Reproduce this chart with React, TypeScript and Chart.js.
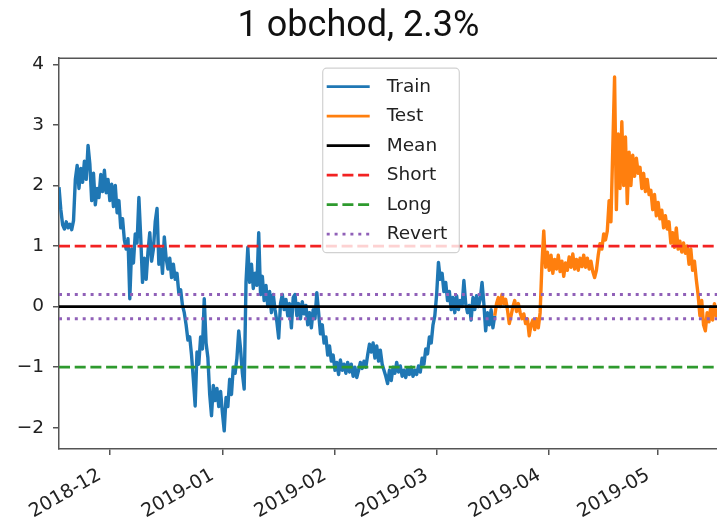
import React, { useEffect, useRef } from "react";
import { Chart, registerables } from "chart.js";

Chart.register(...registerables);

const chartTitle = "1 obchod, 2.3%";
const xTickLabels = ["2018-12", "2019-01", "2019-02", "2019-03", "2019-04", "2019-05"];
const yTickValues = [-2, -1, 0, 1, 2, 3, 4];
const xRangeDates = ["2018-11-17T00:00:00Z", "2019-05-17T05:00:00Z"];
const yRange = [-2.35, 4.1];
const stepHours = 12;
const trainStart = "2018-11-17T00:00:00Z";
const testStart = "2019-03-17T00:00:00Z";

const trainValues = [
  1.97, 1.6, 1.35, 1.28, 1.4, 1.3, 1.36, 1.27, 1.42, 2.1,
  2.33, 1.95, 2.28, 2.05, 2.4, 2.1, 2.66, 2.35, 1.75, 2.2,
  1.68, 1.95, 1.8, 2.18, 1.9, 2.25, 1.88, 2.1, 1.75, 2.02,
  1.65, 2.0, 1.55, 1.75, 1.3, 1.45, 1.1, 0.95, 1.12, 0.13,
  0.95, 0.72, 1.2, 1.05, 1.8, 1.15, 0.4, 0.8, 0.45, 0.9,
  1.22, 0.75, 0.95, 1.4, 1.62, 0.7, 0.95, 0.55, 1.15, 0.8,
  0.62, 0.8, 0.48, 0.7, 0.45, 0.55, 0.22, 0.28, 0.02, -0.1,
  -0.3, -0.55, -0.5, -0.8, -1.2, -1.64, -0.75, -0.95, -0.5, -0.7,
  0.13, -0.6, -0.84, -1.45, -1.8, -1.3, -1.55, -1.35, -1.65, -1.4,
  -1.75, -2.05, -1.5, -1.65, -1.2, -1.45, -1.0, -1.1, -0.85, -0.4,
  -0.7, -1.1, -1.36, 0.4, 0.98, 0.4, 0.7, 0.3, 0.55, 0.35,
  1.22, 0.2, 0.5, 0.1, 0.35, 0.0, 0.25, -0.1, 0.2, -0.05,
  -0.25, -0.52, 0.05, 0.2, -0.05, 0.12, -0.15, 0.05, -0.35, 0.15,
  0.2, -0.15, 0.05, -0.2, 0.08, -0.12, 0.02, -0.3, -0.1, -0.35,
  -0.05, -0.2, 0.23, -0.1, -0.45, -0.3, -0.6, -0.5, -0.8, -0.65,
  -0.9, -0.8, -1.05, -0.92, -1.12, -0.88, -1.05, -0.95, -1.1, -0.92,
  -1.08, -0.95, -1.15, -1.0, -1.17, -1.05, -0.92, -1.02, -0.9, -1.0,
  -0.8, -0.62, -0.75, -0.6, -0.85, -0.65, -0.9, -0.72, -0.95, -1.05,
  -1.15, -1.27, -1.05, -1.22, -1.0, -1.1, -0.92, -1.08, -0.98, -1.15,
  -1.05, -1.17, -1.02, -1.12, -1.0, -1.15, -1.05, -1.12, -0.98, -1.08,
  -0.85, -0.95, -0.7, -0.78, -0.5, -0.6, -0.3, -0.15, 0.2, 0.73,
  0.45, 0.55, 0.25, 0.4, 0.1, 0.25, -0.05, 0.15, -0.1, 0.18,
  -0.05, 0.1, 0.0, 0.43, 0.05, -0.1, 0.02, -0.22, 0.15, -0.05,
  0.18, 0.0, 0.12, 0.4, 0.05, -0.4, -0.1, -0.3, -0.05, -0.35, -0.15,
];

const testValues = [
  -0.15, 0.05, 0.15, 0.0, 0.2, 0.05, 0.12, -0.05, -0.28, -0.15,
  0.0, 0.1, -0.08, 0.05, -0.1, -0.2, -0.12, -0.28, -0.2, -0.48,
  -0.3, -0.22, -0.38, -0.2, -0.35, -0.1, 0.7, 1.25, 0.65, 0.9,
  0.6, 0.85, 0.55, 0.78, 0.62, 0.85, 0.58, 0.75, 0.5, 0.72,
  0.6, 0.82, 0.65, 0.87, 0.62, 0.78, 0.6, 0.8, 0.66, 0.85,
  0.65, 0.8, 0.62, 0.75, 0.58, 0.48, 0.6, 0.85, 1.04, 0.95,
  1.2, 1.1, 1.25, 1.75, 1.4, 2.6, 3.79, 1.6, 2.85, 1.95,
  3.05, 2.0, 2.8, 1.7, 2.55, 2.0, 2.5, 2.15, 2.45, 2.2,
  2.3, 1.95, 2.2, 1.9, 2.1, 1.85, 1.92, 1.6, 1.85, 1.5,
  1.72, 1.45, 1.59, 1.3, 1.5, 1.28, 1.4, 1.05, 1.22, 0.98,
  1.3, 0.95, 1.08, 0.9, 1.05, 0.88, 1.0, 0.7, 0.95, 0.6,
  0.75, 0.45, 0.2, -0.15, 0.1, -0.3, -0.4, -0.1, -0.25, 0.0,
  -0.22, 0.05, -0.15, -0.05,
];

const meanLevel = 0;
const shortLevel = 1;
const longLevel = -1;
const revertLevel = 0.2;

const Y_TICK_FONT = { family: "'DejaVu Sans', sans-serif", size: 18.5 };
const X_TICK_FONT = { family: "'DejaVu Sans', sans-serif", size: 19 };

const toSeries = (start: string, values: number[]) => {
  const t0 = Date.parse(start);
  const step = stepHours * 3600000;
  return values.map((v, i) => ({ x: t0 + i * step, y: v }));
};

const xMin = Date.parse(xRangeDates[0]);
const xMax = Date.parse(xRangeDates[1]);
const xTickValues = xTickLabels.map((l) => Date.parse(l + "-01T00:00:00Z"));
const hline = (level: number) => [
  { x: xMin, y: level },
  { x: xMax, y: level },
];

const framePlugin = {
  id: "frameAndLegend",
  afterDatasetsDraw(chart: any) {
    const { ctx, chartArea: a } = chart;
    ctx.save();
    ctx.strokeStyle = "#555";
    ctx.lineWidth = 1.5;
    ctx.beginPath();
    ctx.moveTo(a.left, a.top);
    ctx.lineTo(a.right, a.top);
    ctx.stroke();

    const items = chart.data.datasets.filter((d: any) => d.label);
    const fs = 18.5;
    ctx.font = `${fs}px 'DejaVu Sans', sans-serif`;
    const textW = Math.max(...items.map((d: any) => ctx.measureText(d.label).width));
    const padL = 4, lineLen = 43, gap = 17, padR = 12, rowH = 29.5, edge = 18.5;
    const w = padL + lineLen + gap + textW + padR;
    const h = edge * 2 + (items.length - 1) * rowH;
    const cx = (a.left + a.right) / 2 + 3;
    const left = cx - w / 2;
    const top = a.top + 10;
    ctx.beginPath();
    if (ctx.roundRect) ctx.roundRect(left, top, w, h, 4);
    else ctx.rect(left, top, w, h);
    ctx.fillStyle = "rgba(255,255,255,0.8)";
    ctx.fill();
    ctx.strokeStyle = "rgba(204,204,204,0.9)";
    ctx.lineWidth = 1.2;
    ctx.stroke();
    items.forEach((d: any, k: number) => {
      const y = top + edge + k * rowH;
      ctx.beginPath();
      ctx.setLineDash(d.borderDash || []);
      ctx.lineCap = "butt";
      ctx.strokeStyle = d.borderColor;
      ctx.lineWidth = Math.min(d.borderWidth, 2.8);
      ctx.moveTo(left + padL, y);
      ctx.lineTo(left + padL + lineLen, y);
      ctx.stroke();
      ctx.setLineDash([]);
      ctx.fillStyle = "#222";
      ctx.textBaseline = "middle";
      ctx.textAlign = "left";
      ctx.fillText(d.label, left + padL + lineLen + gap, y);
    });
    ctx.restore();
  },
};

export default function App() {
  const ref = useRef<HTMLCanvasElement | null>(null);
  useEffect(() => {
    if (!ref.current) return;
    const common = { pointRadius: 0, tension: 0, fill: false, borderJoinStyle: "round" as const };
    const chart = new Chart(ref.current, {
      type: "line",
      data: {
        datasets: [
          { label: "Train", data: toSeries(trainStart, trainValues), borderColor: "#1f77b4", borderWidth: 3.4, order: 6, ...common },
          { label: "Test", data: toSeries(testStart, testValues), borderColor: "#ff7f0e", borderWidth: 3.4, order: 5, ...common },
          { label: "Mean", data: hline(meanLevel), borderColor: "#000000", borderWidth: 2.8, order: 4, ...common },
          { label: "Short", data: hline(shortLevel), borderColor: "#f22222", borderWidth: 2.8, borderDash: [11, 4.7], order: 3, ...common },
          { label: "Long", data: hline(longLevel), borderColor: "#2e9a2e", borderWidth: 2.8, borderDash: [11, 4.7], order: 2, ...common },
          { label: "Revert", data: hline(revertLevel), borderColor: "#9060b8", borderWidth: 2.8, borderDash: [3, 4.9], order: 1, ...common },
          { label: "", data: hline(-revertLevel), borderColor: "#9060b8", borderWidth: 2.8, borderDash: [3, 4.9], order: 1, ...common },
        ],
      },
      options: {
        responsive: false,
        animation: false,
        devicePixelRatio: 1,
        layout: { padding: 0 },
        plugins: {
          legend: { display: false },
          tooltip: { enabled: false },
          title: {
            display: true,
            text: chartTitle,
            color: "#111",
            font: { family: "Roboto, sans-serif", size: 36, weight: "normal" },
            padding: { top: 5, bottom: 10 },
          },
        },
        scales: {
          x: {
            type: "linear",
            min: xMin,
            max: xMax,
            afterBuildTicks: (s: any) => {
              s.ticks = xTickValues.map((v) => ({ value: v }));
            },
            afterFit: (s: any) => {
              s.height = 71;
            },
            ticks: {
              autoSkip: false,
              minRotation: 30,
              maxRotation: 30,
              padding: 9,
              labelOffset: -10,
              color: "#222",
              font: X_TICK_FONT,
              callback: (v: any) => {
                const i = xTickValues.indexOf(Number(v));
                return i >= 0 ? xTickLabels[i] : "";
              },
            },
            grid: { drawOnChartArea: false, drawTicks: true, tickLength: 6, color: "#555", lineWidth: 1.5 },
            border: { display: true, color: "#555", width: 1.5 },
          },
          y: {
            min: yRange[0],
            max: yRange[1],
            afterBuildTicks: (s: any) => {
              s.ticks = yTickValues.map((v) => ({ value: v }));
            },
            afterFit: (s: any) => {
              s.width = 59;
            },
            ticks: {
              padding: 9,
              color: "#222",
              font: Y_TICK_FONT,
              callback: (v: any) => String(v).replace("-", "\u2212"),
            },
            grid: { drawOnChartArea: false, drawTicks: true, tickLength: 6, color: "#555", lineWidth: 1.5 },
            border: { display: true, color: "#555", width: 1.5 },
          },
        },
      },
      plugins: [framePlugin],
    });
    return () => chart.destroy();
  }, []);
  return (
    <div style={{ position: "absolute", left: 0, top: 0, width: 717, height: 520, background: "#fff" }}>
      <canvas ref={ref} width={717} height={520} />
    </div>
  );
}
